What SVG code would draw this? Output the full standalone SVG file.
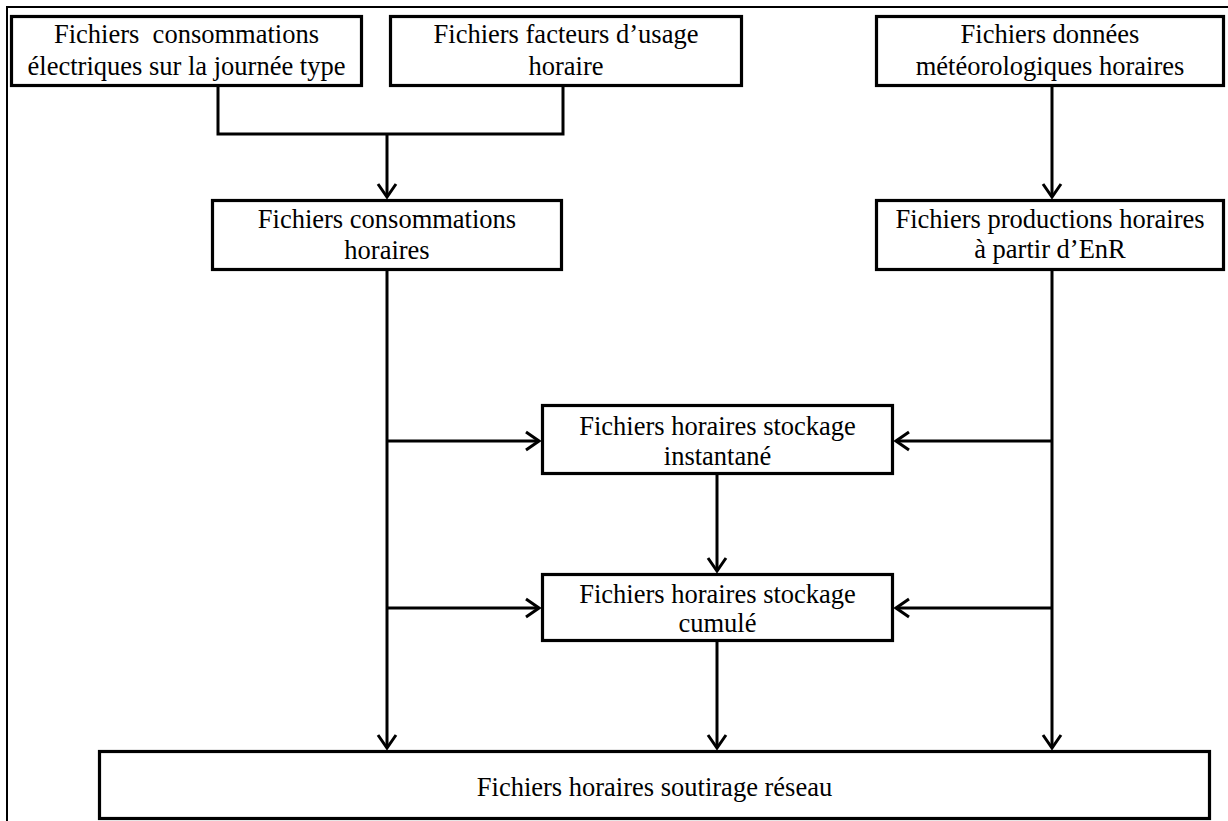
<svg xmlns="http://www.w3.org/2000/svg" width="1228" height="821" viewBox="0 0 1228 821">
<style>
.box{fill:#fff;stroke:#000;stroke-width:3.2}
.lbl{font-family:"Liberation Serif","Times New Roman",serif;font-size:26.5px;fill:#000;text-anchor:middle}
.con{fill:none;stroke:#000;stroke-width:3}
.frame{fill:none;stroke:#000;stroke-width:2}
</style>
<defs>
<marker id="arr" markerUnits="userSpaceOnUse" viewBox="-16 -12 18 24" refX="0" refY="0" markerWidth="18" markerHeight="24" orient="auto">
<path d="M-13,-9 L0,0 L-13,9" fill="none" stroke="#000" stroke-width="3"/>
</marker>
</defs>
<rect width="1228" height="821" fill="#fff"/>
<path class="frame" d="M7,821 V7 H1228"/>
<g id="connectors">
<path class="con" d="M218,86 V134 H563 V86"/>
<path class="con" d="M387,134 V197" marker-end="url(#arr)"/>
<path class="con" d="M1052,86 V197" marker-end="url(#arr)"/>
<path class="con" d="M387,270 V748" marker-end="url(#arr)"/>
<path class="con" d="M387,441 H539" marker-end="url(#arr)"/>
<path class="con" d="M387,608 H539" marker-end="url(#arr)"/>
<path class="con" d="M1052,270 V748" marker-end="url(#arr)"/>
<path class="con" d="M1052,441 H896" marker-end="url(#arr)"/>
<path class="con" d="M1052,608 H896" marker-end="url(#arr)"/>
<path class="con" d="M717,475 V571" marker-end="url(#arr)"/>
<path class="con" d="M717,641 V748" marker-end="url(#arr)"/>
</g>
<g id="n1">
<rect class="box" x="11.5" y="16.5" width="350" height="69"/>
<text class="lbl" x="186.5" y="43" xml:space="preserve">Fichiers  consommations</text>
<text class="lbl" x="186.5" y="75">électriques sur la journée type</text>
</g>
<g id="n2">
<rect class="box" x="390.5" y="16.5" width="351" height="69"/>
<text class="lbl" x="566" y="43">Fichiers facteurs d’usage</text>
<text class="lbl" x="566" y="75">horaire</text>
</g>
<g id="n3">
<rect class="box" x="876.5" y="16.5" width="347" height="69"/>
<text class="lbl" x="1050" y="43">Fichiers données</text>
<text class="lbl" x="1050" y="75">météorologiques horaires</text>
</g>
<g id="n4">
<rect class="box" x="212.5" y="200.5" width="349" height="69"/>
<text class="lbl" x="387" y="228">Fichiers consommations</text>
<text class="lbl" x="387" y="259">horaires</text>
</g>
<g id="n5">
<rect class="box" x="876.5" y="200.5" width="347" height="69"/>
<text class="lbl" x="1050" y="228">Fichiers productions horaires</text>
<text class="lbl" x="1050" y="258">à partir d’EnR</text>
</g>
<g id="n6">
<rect class="box" x="542.5" y="405.5" width="350" height="68"/>
<text class="lbl" x="717.5" y="435">Fichiers horaires stockage</text>
<text class="lbl" x="717.5" y="465">instantané</text>
</g>
<g id="n7">
<rect class="box" x="542.5" y="574.5" width="350" height="66"/>
<text class="lbl" x="717.5" y="603">Fichiers horaires stockage</text>
<text class="lbl" x="717.5" y="632">cumulé</text>
</g>
<g id="n8">
<rect class="box" x="99.5" y="751.5" width="1110" height="67"/>
<text class="lbl" x="654.5" y="796">Fichiers horaires soutirage réseau</text>
</g>
</svg>
